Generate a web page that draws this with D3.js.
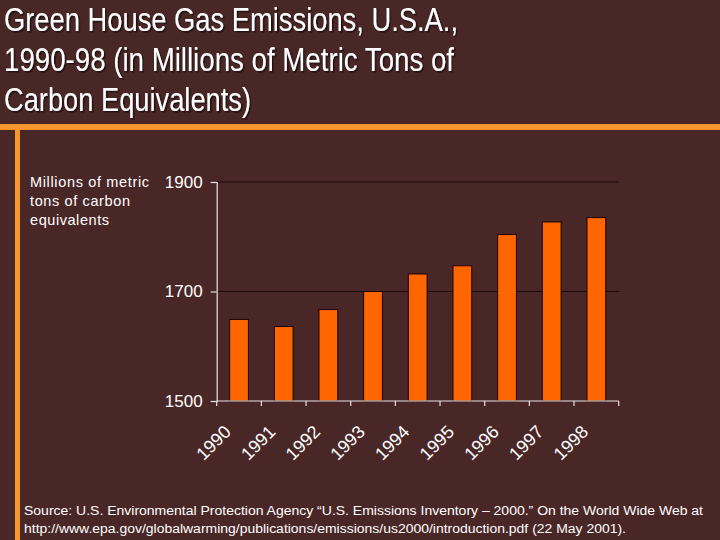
<!DOCTYPE html>
<html>
<head>
<meta charset="utf-8">
<script src="https://cdn.jsdelivr.net/npm/d3@7"></script>
<style>
  html, body { margin: 0; padding: 0; background: #4a2727; }
  svg { display: block; }
  text { font-family: "Liberation Sans", Arial, sans-serif; }
</style>
</head>
<body>
<svg id="chart" width="720" height="540"></svg>
<script>
// ---- data ----
const years = ["1990", "1991", "1992", "1993", "1994", "1995", "1996", "1997", "1998"];
const emissions = [1649, 1636, 1667, 1700, 1732, 1747, 1804, 1827, 1835];
const yTicks = [1500, 1700, 1900];
const titleLines = [
  "Green House Gas Emissions, U.S.A.,",
  "1990-98 (in Millions of Metric Tons of",
  "Carbon Equivalents)"
];
const yLabelLines = ["Millions of metric", "tons of carbon", "equivalents"];
const sourceLines = [
  "Source: U.S. Environmental Protection Agency \u201CU.S. Emissions Inventory \u2013 2000.\u201D On the World Wide Web at",
  "http://www.epa.gov/globalwarming/publications/emissions/us2000/introduction.pdf (22 May 2001)."
];

const svg = d3.select("#chart");
const W = 720, H = 540;
svg.append("rect").attr("width", W).attr("height", H).attr("fill", "#4a2727");

const defs = svg.append("defs");
const f = defs.append("filter").attr("id", "shadow").attr("x", "-5%").attr("y", "-20%").attr("width", "110%").attr("height", "140%");
f.append("feDropShadow").attr("dx", 1.5).attr("dy", 1.5).attr("stdDeviation", 0.6)
  .attr("flood-color", "#1e0c0c").attr("flood-opacity", 0.9);

// ---- decorative orange rules ----
svg.append("rect").attr("x", 0).attr("y", 124).attr("width", W).attr("height", 6).attr("fill", "#f7962f");
svg.append("rect").attr("x", 15).attr("y", 124).attr("width", 5).attr("height", H - 124).attr("fill", "#f7962f");

// ---- title ----
const titleLens = [454, 450, 247];
const titleBase = [31, 71, 111];
titleLines.forEach((t, i) => {
  svg.append("text").attr("x", 4).attr("y", titleBase[i])
    .attr("font-size", 34).attr("fill", "#ffffff").attr("filter", "url(#shadow)")
    .attr("textLength", titleLens[i]).attr("lengthAdjust", "spacingAndGlyphs").text(t);
});

// ---- scales ----
const plotL = 216.7, plotR = 618.7, plotT = 182, plotB = 401;
const x = d3.scaleBand().domain(years).range([plotL, plotR]).padding(0);
const y = d3.scaleLinear().domain([1500, 1900]).range([plotB, plotT]);
const bw = x.bandwidth();
const barFrac = 0.42;

// gridlines
svg.append("g").selectAll("line").data(yTicks.filter(v => v > 1500)).join("line")
  .attr("x1", plotL).attr("x2", plotR)
  .attr("y1", d => y(d)).attr("y2", d => y(d))
  .attr("stroke", "#1a0a0a").attr("stroke-width", 1);

// bars
svg.append("g").selectAll("rect").data(years).join("rect")
  .attr("x", (d) => x(d) + bw * (1 - barFrac) / 2)
  .attr("width", bw * barFrac)
  .attr("y", (d, i) => y(emissions[i]))
  .attr("height", (d, i) => y(1500) - y(emissions[i]))
  .attr("fill", "#ff6600")
  .attr("stroke", "#1a0505").attr("stroke-width", 1);

// y axis
const yAxis = d3.axisLeft(y).tickValues(yTicks).tickSize(6).tickPadding(8).tickFormat(d3.format("d"));
const gy = svg.append("g").attr("transform", `translate(${plotL},0)`).call(yAxis);
gy.select(".domain").attr("stroke", "#e8e0e0").attr("stroke-width", 1.2);
gy.selectAll(".tick line").attr("stroke", "#e8e0e0").attr("stroke-width", 1.2);
gy.selectAll(".tick text").attr("fill", "#ffffff").attr("font-size", 17)
  .attr("font-family", "Liberation Sans, Arial, sans-serif");

// x axis (ticks at band boundaries)
const gx = svg.append("g");
gx.append("line").attr("x1", plotL).attr("x2", plotR).attr("y1", plotB).attr("y2", plotB)
  .attr("stroke", "#e8e0e0").attr("stroke-width", 1.2);
const bounds = years.map(d => x(d)).concat([x.range()[1]]);
gx.selectAll("line.t").data(bounds).join("line").attr("class", "t")
  .attr("x1", d => d).attr("x2", d => d).attr("y1", plotB).attr("y2", plotB + 5)
  .attr("stroke", "#e8e0e0").attr("stroke-width", 1.2);
gx.selectAll("text").data(years).join("text")
  .attr("transform", d => `translate(${x(d) + bw / 2 - 7},433) rotate(-45)`)
  .attr("text-anchor", "end").attr("fill", "#ffffff").attr("font-size", 18)
  .text(d => d);

// y label
const yLabLens = [119, 100, 79];
const yLabBase = [186.5, 205.5, 225];
yLabelLines.forEach((t, i) => {
  svg.append("text").attr("x", 30).attr("y", yLabBase[i])
    .attr("font-size", 14.5).attr("fill", "#ffffff")
    .attr("textLength", yLabLens[i]).attr("lengthAdjust", "spacing").text(t);
});

// source
const srcLens = [679, 602];
const srcBase = [515, 533];
sourceLines.forEach((t, i) => {
  svg.append("text").attr("x", 24).attr("y", srcBase[i])
    .attr("font-size", 12.5).attr("fill", "#ffffff")
    .attr("textLength", srcLens[i]).attr("lengthAdjust", "spacingAndGlyphs").text(t);
});
</script>
</body>
</html>
